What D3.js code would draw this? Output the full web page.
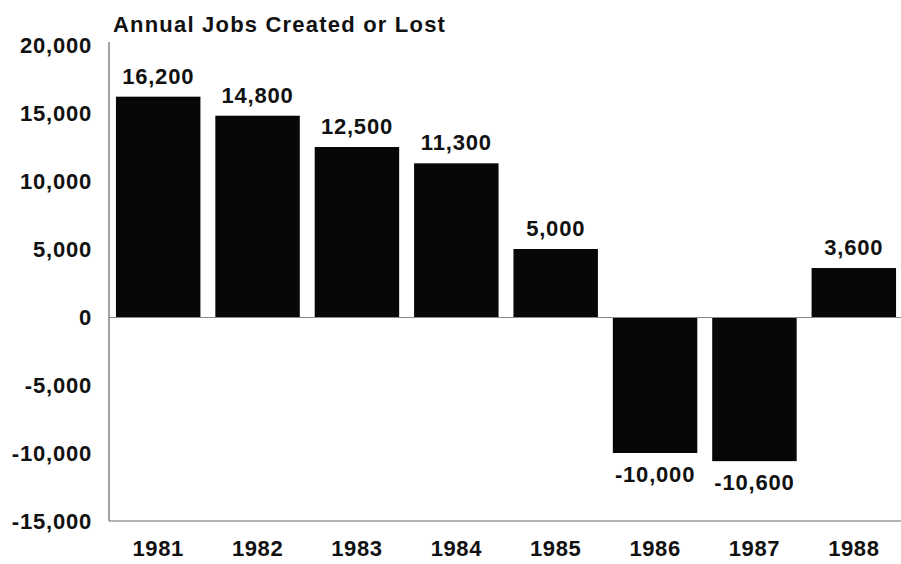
<!DOCTYPE html>
<html>
<head>
<meta charset="utf-8">
<script src="https://cdn.jsdelivr.net/npm/d3@7"></script>
<style>
  html, body { margin: 0; padding: 0; background: #fff; }
  svg { display: block; }
  text { font-family: "Liberation Sans", Arial, Helvetica, sans-serif; font-weight: bold; fill: #111; }
</style>
</head>
<body>
<svg id="chart" width="901" height="564"></svg>
<script>
// Annual jobs created (positive) or lost (negative), by year
const years = ["1981", "1982", "1983", "1984", "1985", "1986", "1987", "1988"];
const jobs = [16200, 14800, 12500, 11300, 5000, -10000, -10600, 3600];
const yTicks = [-15000, -10000, -5000, 0, 5000, 10000, 15000, 20000];
const title = "Annual Jobs Created or Lost";

const svg = d3.select("#chart");
const W = 901, H = 564;
const plotLeft = 109, plotRight = 903.5, plotTop = 45, plotBottom = 521;

const x = d3.scaleBand()
  .domain(years)
  .range([plotLeft - 0.5, plotRight])
  .paddingInner(0.15)
  .paddingOuter(0.075);

const y = d3.scaleLinear()
  .domain([-15000, 20000])
  .range([plotBottom, plotTop]);

// Thousands separator with a plain hyphen for negatives
const fmt = d3.formatLocale({ decimal: ".", thousands: ",", grouping: [3], currency: ["$", ""], minus: "-" }).format(",");
const rows = years.map((yr, i) => ({ yr, v: jobs[i] }));

// Bars
svg.append("g")
  .selectAll("rect")
  .data(rows)
  .join("rect")
  .attr("x", d => x(d.yr))
  .attr("width", x.bandwidth())
  .attr("y", d => y(Math.max(0, d.v)))
  .attr("height", d => Math.abs(y(d.v) - y(0)))
  .attr("fill", "#070707");

// Zero line and bottom frame line
svg.append("line")
  .attr("x1", plotLeft).attr("x2", W)
  .attr("y1", y(0) + 0.5).attr("y2", y(0) + 0.5)
  .attr("stroke", "#8a8a8a").attr("stroke-width", 1.2);

svg.append("line")
  .attr("x1", plotLeft).attr("x2", W)
  .attr("y1", y(-15000)).attr("y2", y(-15000))
  .attr("stroke", "#9a9a9a").attr("stroke-width", 1.5);

// Left axis
const yAxis = d3.axisLeft(y)
  .tickValues(yTicks)
  .tickSize(0)
  .tickPadding(17)
  .tickFormat(d => fmt(d));

const gy = svg.append("g")
  .attr("transform", `translate(${plotLeft},0)`)
  .call(yAxis);
gy.select(".domain")
  .attr("d", `M0,${plotTop - 3}V${plotBottom}`)
  .attr("stroke", "#666").attr("stroke-width", 1.2);
gy.selectAll(".tick text")
  .attr("font-size", 22)
  .attr("letter-spacing", "0.8px")
  .attr("dy", "0.34em")
  .attr("fill", "#111");

// Year labels
const xAxis = d3.axisBottom(x).tickSize(0).tickPadding(19);
const gx = svg.append("g")
  .attr("transform", `translate(0,${plotBottom})`)
  .call(xAxis);
gx.select(".domain").remove();
gx.selectAll(".tick text")
  .attr("font-size", 22)
  .attr("letter-spacing", "0.6px")
  .attr("fill", "#111");

// Value labels
svg.append("g")
  .selectAll("text")
  .data(rows)
  .join("text")
  .attr("x", d => x(d.yr) + x.bandwidth() / 2)
  .attr("y", d => d.v >= 0 ? y(d.v) - 13 : y(d.v) + 29)
  .attr("text-anchor", "middle")
  .attr("font-size", 22)
  .attr("letter-spacing", "0.8px")
  .text(d => fmt(d.v));

// Title
svg.append("text")
  .attr("x", 113)
  .attr("y", 32)
  .attr("font-size", 22)
  .attr("letter-spacing", "1.2px")
  .text(title);
</script>
</body>
</html>
